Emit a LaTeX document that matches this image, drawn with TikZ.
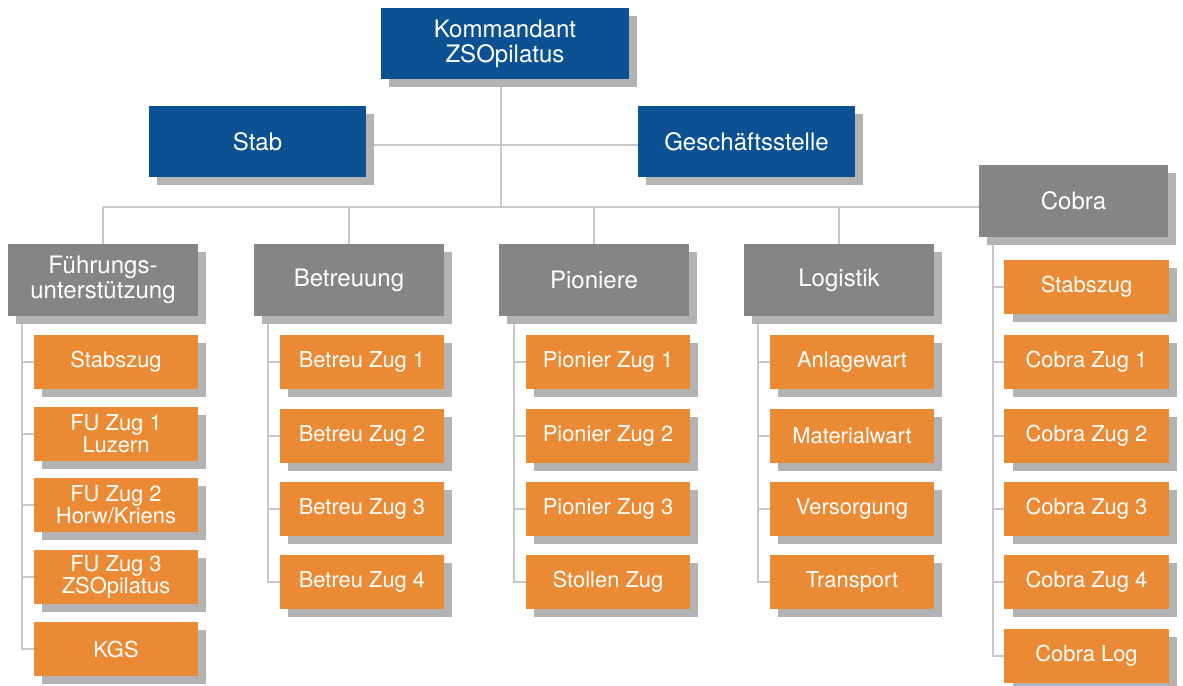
\documentclass[tikz,border=0pt]{standalone}
\usepackage{fontspec}
\setmainfont{TeX Gyre Heros}
\usepackage{tikz}
\usetikzlibrary{shadows,positioning}
\definecolor{zsblue}{HTML}{0C5191}
\definecolor{zsgray}{HTML}{858585}
\definecolor{zsorange}{HTML}{EB8A35}
\definecolor{zsshadow}{HTML}{B3B3B3}
\definecolor{zsline}{HTML}{C8C8C8}
\pgfdeclarelayer{edgelayer}
\pgfsetlayers{edgelayer,main}
\tikzset{
  box/.style={rectangle, text=white, align=center, inner sep=0pt,
    drop shadow={fill=zsshadow, opacity=1, shadow xshift=5.7pt, shadow yshift=-5.7pt}},
  chief/.style={box, fill=zsblue, minimum height=1.775cm, font=\fontsize{17.1}{17.8}\selectfont},
  unit/.style={box, fill=zsgray, minimum width=4.75cm, minimum height=1.8cm, font=\fontsize{17.1}{17.8}\selectfont},
  zug/.style={box, fill=zsorange, minimum width=4.1cm, minimum height=1.35cm, font=\fontsize{15.6}{15.6}\selectfont},
  link/.style={draw=zsline, line width=1.4pt}
}

\begin{document}
\begin{tikzpicture}[x=0.025cm,y=-0.025cm]
\useasboundingbox (0,0) rectangle (1183,685);
% top
\node[chief, minimum width=6.2cm] (kdt) at (505,43.5) {Kommandant\\ZSOpilatus};
\node[chief, minimum width=5.425cm] (stab) at (257.5,141.5) {Stab};
\node[chief, minimum width=5.425cm] (gst) at (746.5,141.5) {Geschäftsstelle};
% units
\node[unit] (fu) at (103,280) {Führungs-\\unterstützung};
\node[unit] (betr) at (349,280) {Betreuung};
\node[unit] (pion) at (594,280) {Pioniere};
\node[unit] (log) at (839,280) {Logistik};
\node[unit, minimum width=4.725cm] (cobra) at (1073.5,201) {Cobra};
% Fuehrungsunterstuetzung
\node[zug] (fu1) at (116,362) {Stabszug};
\node[zug] (fu2) at (116,434) {FU Zug 1\\Luzern};
\node[zug] (fu3) at (116,505) {FU Zug 2\\Horw/Kriens};
\node[zug] (fu4) at (116,577) {FU Zug 3\\ZSOpilatus};
\node[zug] (fu5) at (116,649) {KGS};
% Betreuung
\node[zug] (betr1) at (362,362) {Betreu Zug 1};
\node[zug] (betr2) at (362,436) {Betreu Zug 2};
\node[zug] (betr3) at (362,509) {Betreu Zug 3};
\node[zug] (betr4) at (362,582) {Betreu Zug 4};
% Pioniere
\node[zug] (pion1) at (608,362) {Pionier Zug 1};
\node[zug] (pion2) at (608,436) {Pionier Zug 2};
\node[zug] (pion3) at (608,509) {Pionier Zug 3};
\node[zug] (pion4) at (608,582) {Stollen Zug};
% Logistik
\node[zug] (log1) at (852,362) {Anlagewart};
\node[zug] (log2) at (852,436) {Materialwart};
\node[zug] (log3) at (852,509) {Versorgung};
\node[zug] (log4) at (852,582) {Transport};
% Cobra
\node[zug] (cob1) at (1086.5,287) {Stabszug};
\node[zug] (cob2) at (1086.5,362) {Cobra Zug 1};
\node[zug] (cob3) at (1086.5,436) {Cobra Zug 2};
\node[zug] (cob4) at (1086.5,509) {Cobra Zug 3};
\node[zug] (cob5) at (1086.5,582) {Cobra Zug 4};
\node[zug] (cob6) at (1086.5,656) {Cobra Log};
% lines
\coordinate (bus) at (501,207);
\coordinate (staff) at (501,145);
\coordinate (fuL) at (22,316);
\coordinate (betrL) at (268,316);
\coordinate (pionL) at (514,316);
\coordinate (logL) at (758,316);
\coordinate (cobL) at (993,237);
\begin{pgfonlayer}{edgelayer}
\path[link]
(kdt.south -| bus) edge (bus)
(stab.east |- staff) edge (gst.west |- staff)
(fu.north |- bus) edge (cobra.west |- bus)
(fu.north) edge (fu.north |- bus)
(betr.north) edge (betr.north |- bus)
(pion.north) edge (pion.north |- bus)
(log.north) edge (log.north |- bus);
\draw[link] (fuL) |- (fu5.west);
\draw[link] (betrL) |- (betr4.west);
\draw[link] (pionL) |- (pion4.west);
\draw[link] (logL) |- (log4.west);
\draw[link] (cobL) |- (cob6.west);
\path[link]
(fuL |- fu1) edge (fu1.west)
(fuL |- fu2) edge (fu2.west)
(fuL |- fu3) edge (fu3.west)
(fuL |- fu4) edge (fu4.west)
(betrL |- betr1) edge (betr1.west)
(betrL |- betr2) edge (betr2.west)
(betrL |- betr3) edge (betr3.west)
(pionL |- pion1) edge (pion1.west)
(pionL |- pion2) edge (pion2.west)
(pionL |- pion3) edge (pion3.west)
(logL |- log1) edge (log1.west)
(logL |- log2) edge (log2.west)
(logL |- log3) edge (log3.west)
(cobL |- cob1) edge (cob1.west)
(cobL |- cob2) edge (cob2.west)
(cobL |- cob3) edge (cob3.west)
(cobL |- cob4) edge (cob4.west)
(cobL |- cob5) edge (cob5.west);
\end{pgfonlayer}
\end{tikzpicture}
\end{document}
